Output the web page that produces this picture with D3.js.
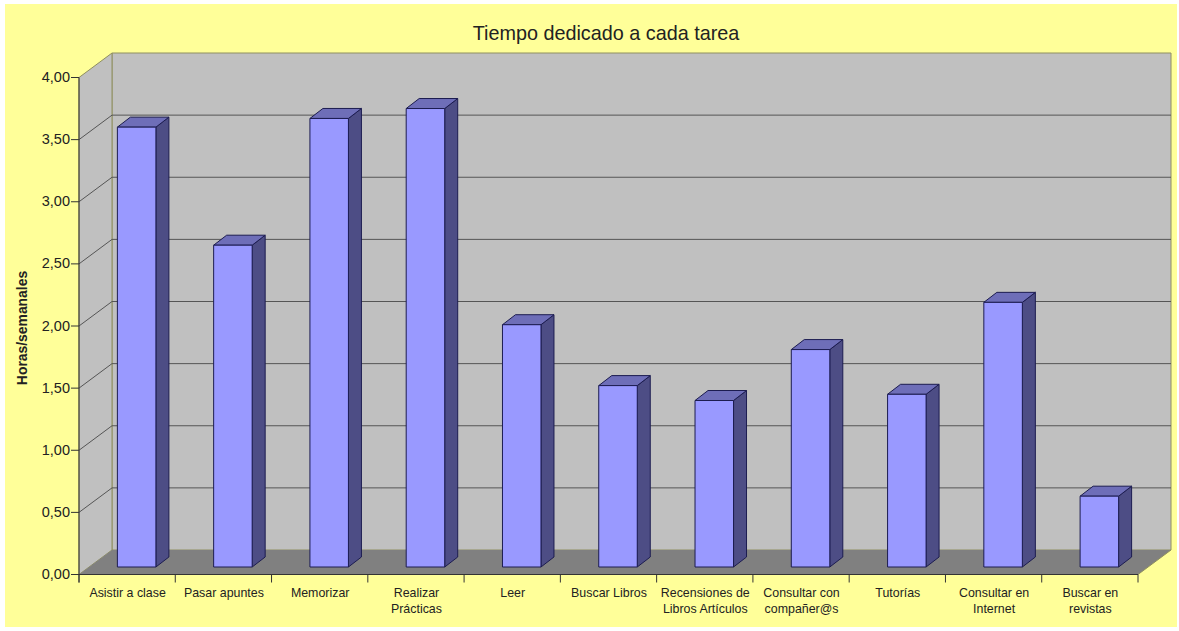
<!DOCTYPE html>
<html>
<head>
<meta charset="utf-8">
<script src="https://d3js.org/d3.v7.min.js"></script>
<style>
html, body { margin: 0; padding: 0; background: #fff; }
text { font-family: "Liberation Sans", Arial, sans-serif; fill: #222; }
</style>
</head>
<body>
<div id="chart"></div>
<script>
const categories = [
  ["Asistir a clase"], ["Pasar apuntes"], ["Memorizar"], ["Realizar", "Prácticas"],
  ["Leer"], ["Buscar Libros"], ["Recensiones de", "Libros Artículos"],
  ["Consultar con", "compañer@s"], ["Tutorías"], ["Consultar en", "Internet"],
  ["Buscar en", "revistas"]
];
const hours = [3.54, 2.59, 3.61, 3.69, 1.95, 1.46, 1.34, 1.75, 1.39, 2.13, 0.57];
const yTicks = [0, 0.5, 1, 1.5, 2, 2.5, 3, 3.5, 4];

const width = 1179, height = 631;
const dx = 33, dy = 24.5;        // depth of the box
const barDx = 9.5, barDy = 7.5;  // where the bar front sits in the depth
const sideDx = 13, sideDy = 10;  // depth of a bar

const x = d3.scaleBand().domain(d3.range(categories.length)).range([79, 1138]).paddingInner(0.6).paddingOuter(0.3);
const xTick = d3.scaleLinear().domain([0, categories.length]).range([79, 1138]);
const y = d3.scaleLinear().domain([0, 4]).range([574.5, 77.5]);
const fmt = d => d.toFixed(2).replace(".", ",");

const svg = d3.select("#chart").append("svg").attr("width", width).attr("height", height).style("display", "block");

svg.append("rect").attr("x", 5).attr("y", 4).attr("width", 1172).attr("height", 623).attr("fill", "#ffff99");

const poly = pts => pts.map(p => p.join(",")).join(" ");
const x0 = xTick(0), x1 = xTick(categories.length);
const yB = y(0), yT = y(4);

// walls and floor
svg.append("polygon").attr("points", poly([[x0 + dx, yT - dy], [x1 + dx, yT - dy], [x1 + dx, yB - dy], [x0 + dx, yB - dy]]))
  .attr("fill", "#c0c0c0").attr("stroke", "#8f8f60");
svg.append("polygon").attr("points", poly([[x0, yT], [x0 + dx, yT - dy], [x0 + dx, yB - dy], [x0, yB]]))
  .attr("fill", "#c0c0c0").attr("stroke", "#8f8f60");
svg.append("polygon").attr("points", poly([[x0, yB], [x0 + dx, yB - dy], [x1 + dx, yB - dy], [x1, yB]]))
  .attr("fill", "#808080");

// gridlines
const grid = svg.append("g").attr("fill", "none").attr("stroke", "#555").attr("stroke-width", 1);
yTicks.slice(1, -1).forEach(t => {
  grid.append("polyline").attr("points", poly([[x0, y(t)], [x0 + dx, y(t) - dy], [x1 + dx, y(t) - dy]]));
});
svg.append("polyline").attr("points", poly([[x1, yB], [x1 + dx, yB - dy]])).attr("fill", "none").attr("stroke", "#8f8f60");

// bars
const bars = svg.append("g").selectAll("g").data(hours).enter().append("g")
  .attr("stroke", "#1c1c50").attr("stroke-width", 1).attr("stroke-linejoin", "round");
const bx = (d, i) => x(i) + barDx;
const bTop = d => y(d) - barDy;
const bw = x.bandwidth();
bars.append("polygon").attr("fill", "#4d4d85").attr("points", (d, i) => poly([
  [bx(d, i) + bw, bTop(d)], [bx(d, i) + bw + sideDx, bTop(d) - sideDy],
  [bx(d, i) + bw + sideDx, yB - barDy - sideDy], [bx(d, i) + bw, yB - barDy]]));
bars.append("polygon").attr("fill", "#6e6eb8").attr("points", (d, i) => poly([
  [bx(d, i), bTop(d)], [bx(d, i) + sideDx, bTop(d) - sideDy],
  [bx(d, i) + bw + sideDx, bTop(d) - sideDy], [bx(d, i) + bw, bTop(d)]]));
bars.append("rect").attr("fill", "#9999ff").attr("x", bx).attr("y", bTop).attr("width", bw).attr("height", d => yB - barDy - bTop(d));

// axes
const axisG = svg.append("g").attr("stroke", "#333").attr("fill", "none");
axisG.append("line").attr("x1", x0).attr("x2", x0).attr("y1", yT).attr("y2", yB + 8);
axisG.append("line").attr("x1", x0).attr("x2", x1).attr("y1", yB).attr("y2", yB);
yTicks.forEach(t => axisG.append("line").attr("x1", x0 - 8).attr("x2", x0).attr("y1", y(t)).attr("y2", y(t)));
d3.range(categories.length + 1).forEach(i => axisG.append("line").attr("x1", xTick(i)).attr("x2", xTick(i)).attr("y1", yB).attr("y2", yB + 8));

svg.append("g").selectAll("text").data(yTicks).enter().append("text")
  .attr("x", x0 - 9).attr("y", d => y(d) + 4.5).attr("text-anchor", "end").attr("font-size", 14.5).text(fmt);

const cat = svg.append("g").selectAll("text").data(categories).enter().append("text")
  .attr("text-anchor", "middle").attr("font-size", 12.4);
cat.selectAll("tspan").data((d, i) => d.map(s => ({ s, i }))).enter().append("tspan")
  .attr("x", d => xTick(d.i + 0.5) + 0.5).attr("y", (d, j) => 597 + j * 15.5).text(d => d.s);

svg.append("text").attr("x", 606).attr("y", 40).attr("text-anchor", "middle").attr("font-size", 19.8).text("Tiempo dedicado a cada tarea");
svg.append("text").attr("transform", "translate(27,328) rotate(-90)").attr("text-anchor", "middle")
  .attr("font-size", 13.9).attr("font-weight", "bold").text("Horas/semanales");
</script>
</body>
</html>
